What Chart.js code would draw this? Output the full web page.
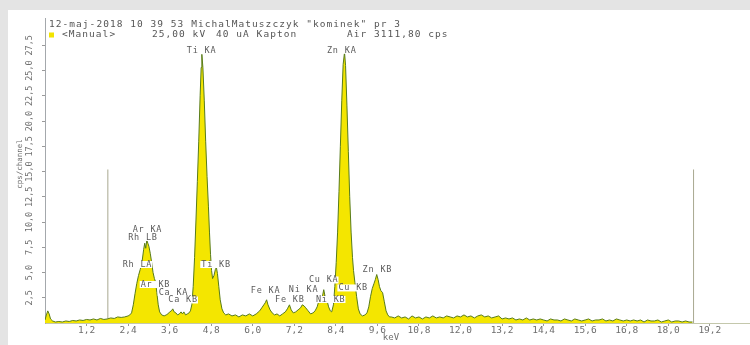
<!DOCTYPE html>
<html>
<head>
<meta charset="utf-8">
<script src="https://cdn.jsdelivr.net/npm/chart.js@4.4.0/dist/chart.umd.min.js"></script>
<style>
    html, body { margin: 0; padding: 0; background: #e4e4e4; }
    #wrap { width: 750px; height: 345px; }
</style>
</head>
<body>
<div id="wrap"><canvas id="chart" width="750" height="345"></canvas></div>
<script>
// spectrum: energy (keV) and counts (cps/channel)
const spectrumKeV = [
    0, 0.04, 0.08, 0.12, 0.16, 0.22, 0.3, 0.4, 0.5, 0.6,
    0.7, 0.8, 0.9, 1.0, 1.1, 1.2, 1.3, 1.4, 1.5, 1.6,
    1.7, 1.8, 1.9, 2.0, 2.1, 2.2, 2.3, 2.4,
    2.45, 2.5, 2.55, 2.6, 2.65, 2.7, 2.75, 2.8, 2.85, 2.88, 2.91, 2.94,
    2.97, 3.0, 3.04, 3.08, 3.12, 3.16, 3.19, 3.23, 3.27, 3.31, 3.37, 3.44,
    3.5, 3.55, 3.6, 3.65, 3.69, 3.73, 3.78, 3.83, 3.88, 3.93, 3.97, 4.01, 4.06, 4.11, 4.16, 4.2,
    4.24, 4.28, 4.32, 4.36, 4.40, 4.44, 4.48, 4.51, 4.53, 4.56, 4.60, 4.64, 4.68, 4.72,
    4.75, 4.78, 4.81, 4.84, 4.88, 4.92, 4.95, 4.98, 5.02, 5.06, 5.11, 5.16, 5.22, 5.3,
    5.4, 5.5, 5.6, 5.7, 5.8, 5.9, 6.0, 6.1, 6.2,
    6.26, 6.32, 6.36, 6.40, 6.44, 6.5, 6.56, 6.63, 6.7, 6.78,
    6.86, 6.94, 7.0, 7.06, 7.11, 7.17, 7.24, 7.31, 7.38, 7.43,
    7.48, 7.53, 7.6, 7.67, 7.74, 7.8, 7.86, 7.91, 7.96, 8.01,
    8.05, 8.09, 8.14, 8.19, 8.24, 8.28, 8.33,
    8.37, 8.41, 8.45, 8.49, 8.53, 8.57, 8.61, 8.65, 8.68, 8.72, 8.76,
    8.80, 8.84, 8.88, 8.91, 8.95, 9.0, 9.05, 9.1, 9.17, 9.24,
    9.3, 9.35, 9.4, 9.45, 9.5, 9.54, 9.58, 9.62, 9.66, 9.7, 9.75, 9.8, 9.85, 9.9, 9.95,
    10.0, 10.1, 10.2, 10.3, 10.4, 10.5, 10.6, 10.7, 10.8, 10.9,
    11.0, 11.1, 11.2, 11.3, 11.4, 11.5, 11.6, 11.7, 11.8, 11.9,
    12.0, 12.1, 12.2, 12.3, 12.4, 12.5, 12.6, 12.7, 12.8, 12.9,
    13.0, 13.1, 13.2, 13.3, 13.4, 13.5, 13.6, 13.7, 13.8, 13.9,
    14.0, 14.1, 14.2, 14.3, 14.4, 14.5, 14.6, 14.7, 14.8, 14.9,
    15.0, 15.1, 15.2, 15.3, 15.4, 15.5, 15.6, 15.7, 15.8, 15.9,
    16.0, 16.1, 16.2, 16.3, 16.4, 16.5, 16.6, 16.7, 16.8, 16.9,
    17.0, 17.1, 17.2, 17.3, 17.4, 17.5, 17.6, 17.7, 17.8, 17.9,
    18.0, 18.1, 18.2, 18.3, 18.4, 18.5, 18.6, 18.7
];
const spectrumCps = [
    0.3, 0.8, 1.2, 0.9, 0.4, 0.2, 0.1, 0.15, 0.1, 0.2,
    0.15, 0.25, 0.2, 0.3, 0.25, 0.35, 0.3, 0.4, 0.3, 0.45,
    0.35, 0.4, 0.5, 0.45, 0.6, 0.55, 0.6, 0.7,
    0.8, 1.0, 1.8, 2.9, 3.9, 4.7, 5.3, 6.0, 7.3, 7.9, 7.4, 8.2,
    7.9, 7.6, 6.9, 6.0, 5.0, 4.4, 4.1, 3.0, 1.8, 1.1, 0.8, 0.7,
    0.8, 0.9, 1.1, 1.2, 1.4, 1.1, 1.0, 0.8, 0.9, 1.1, 0.9, 1.1, 0.8, 0.9, 1.0, 1.2,
    1.8, 3.6, 6.5, 10.2, 14.0, 18.0, 22.5, 25.3, 26.6, 25.3, 22.0, 18.0, 14.5, 11.5,
    9.0, 6.8, 5.2, 4.4, 4.7, 5.3, 5.5, 4.9, 3.6, 2.3, 1.4, 1.0, 0.8, 0.9,
    0.7, 0.8, 0.6, 0.8, 0.7, 0.9, 0.7, 0.9, 1.2,
    1.5, 1.8, 2.0, 2.3, 1.8, 1.3, 1.0, 0.8, 0.9, 0.7,
    0.9, 1.1, 1.4, 1.8, 1.3, 1.0, 1.1, 1.3, 1.5, 1.8,
    1.7, 1.5, 1.2, 0.9, 1.0, 1.2, 1.6, 2.2, 2.5, 2.6,
    3.3, 2.6, 2.3, 1.6, 1.2, 1.1, 1.8,
    3.6, 6.0, 9.0, 13.0, 17.5, 22.0, 25.6, 26.8, 25.5, 21.5, 17.0,
    12.5, 9.0, 6.5, 5.2, 4.0, 2.6, 1.4, 0.9, 0.7, 0.8,
    1.0, 1.6, 2.6, 3.4, 3.9, 4.3, 4.8, 4.3, 3.6, 3.2, 3.0, 2.1, 1.2, 0.8, 0.6,
    0.6, 0.5, 0.7, 0.5, 0.6, 0.4, 0.7, 0.5, 0.6, 0.4,
    0.6, 0.5, 0.7, 0.5, 0.6, 0.5, 0.7, 0.6, 0.5, 0.7,
    0.6, 0.8, 0.6, 0.7, 0.5, 0.7, 0.8, 0.6, 0.7, 0.5,
    0.6, 0.7, 0.4, 0.5, 0.4, 0.5, 0.3, 0.4, 0.3, 0.5,
    0.3, 0.4, 0.3, 0.4, 0.3, 0.2, 0.4, 0.3, 0.3, 0.2,
    0.4, 0.3, 0.2, 0.4, 0.3, 0.2, 0.3, 0.4, 0.2, 0.3,
    0.3, 0.4, 0.2, 0.3, 0.2, 0.4, 0.3, 0.2, 0.3, 0.2,
    0.3, 0.2, 0.3, 0.1, 0.3, 0.2, 0.2, 0.3, 0.1, 0.2,
    0.3, 0.1, 0.2, 0.2, 0.1, 0.2, 0.1, 0.1
];

// two ROI marker lines
const markerKeV = [1.815, 18.73];
const markerTopCps = 15.2;

const xTickValues = [1.2, 2.4, 3.6, 4.8, 6.0, 7.2, 8.4, 9.6, 10.8, 12.0, 13.2, 14.4, 15.6, 16.8, 18.0, 19.2];
const yTickValues = [2.5, 5, 7.5, 10, 12.5, 15, 17.5, 20, 22.5, 25, 27.5];

// peak labels: text, energy and height where the label sits
const peakNames = ['Ti KA', 'Zn KA', 'Ar KA', 'Rh LB', 'Rh LA', 'Ar KB', 'Ca KA', 'Ca KB',
    'Ti KB', 'Fe KA', 'Fe KB', 'Ni KA', 'Cu KA', 'Ni KB', 'Cu KB', 'Zn KB'];
const peakKeV = [4.52, 8.57, 2.96, 2.83, 2.67, 3.19, 3.71, 3.99,
    4.94, 6.37, 7.07, 7.47, 8.05, 8.25, 8.90, 9.60];
const peakLabelCps = [27.0, 27.0, 9.26, 8.47, 5.79, 3.81, 3.02, 2.28,
    5.79, 3.22, 2.33, 3.32, 4.26, 2.33, 3.47, 5.30];

const headerLine = '12-maj-2018 10 39 53 MichalMatuszczyk "kominek" pr 3';

const mono = "'DejaVu Sans Mono'";

const panelPlugin = {
    id: 'panel',
    beforeDraw(chart) {
        const ctx = chart.ctx;
        ctx.save();
        ctx.fillStyle = '#e4e4e4';
        ctx.fillRect(0, 0, chart.width, chart.height);
        ctx.fillStyle = '#ffffff';
        ctx.fillRect(8, 10, chart.width - 8, chart.height - 10);
        ctx.restore();
    }
};

const textPlugin = {
    id: 'texts',
    afterDatasetsDraw(chart) {
        const ctx = chart.ctx;
        const xs = chart.scales.x;
        const ys = chart.scales.y;
        ctx.save();

        // peak labels
        ctx.font = '8.5px ' + mono;
        ctx.letterSpacing = '0.8px';
        ctx.textAlign = 'center';
        ctx.textBaseline = 'middle';
        peakNames.forEach((name, i) => {
            const px = xs.getPixelForValue(peakKeV[i]);
            const py = ys.getPixelForValue(peakLabelCps[i]);
            const w = ctx.measureText(name).width;
            ctx.fillStyle = '#ffffff';
            ctx.fillRect(px - w / 2 - 1, py - 3.5, w + 1, 7);
            ctx.fillStyle = '#5a5a5a';
            ctx.fillText(name, px, py);
        });

        // y tick labels, rotated
        ctx.fillStyle = '#707070';
        ctx.font = '8.5px ' + mono;
        ctx.letterSpacing = '0px';
        yTickValues.forEach(v => {
            const py = ys.getPixelForValue(v);
            ctx.save();
            ctx.translate(30, py);
            ctx.rotate(-Math.PI / 2);
            ctx.fillText(v.toFixed(1).replace('.', ','), 0, 0);
            ctx.restore();
        });

        // axis titles
        ctx.save();
        ctx.font = '7.5px ' + mono;
        ctx.translate(20, 164);
        ctx.rotate(-Math.PI / 2);
        ctx.fillText('cps/channel', 0, 0);
        ctx.restore();
        ctx.font = '9px ' + mono;
        ctx.fillText('keV', 391, 338);

        // header
        ctx.fillStyle = '#555555';
        ctx.font = '9.5px ' + mono;
        ctx.letterSpacing = '1.05px';
        ctx.textAlign = 'left';
        ctx.fillText(headerLine, 49, 24.5);
        ctx.fillText('<Manual>', 62, 35);
        ctx.fillText('25,00 kV', 152, 35);
        ctx.fillText('40 uA Kapton', 216, 35);
        ctx.fillText('Air 3111,80 cps', 347, 35);
        ctx.fillStyle = '#f2e400';
        ctx.fillRect(49, 32.5, 5, 5);

        ctx.restore();
    }
};

const spectrumPoints = spectrumKeV.map((e, i) => ({ x: e, y: spectrumCps[i] }));

const markerSets = markerKeV.map(e => ({
    data: [{ x: e, y: 0 }, { x: e, y: markerTopCps }],
    borderColor: '#a8a890',
    borderWidth: 1,
    pointRadius: 0,
    fill: false
}));

new Chart(document.querySelector('#chart').getContext('2d'), {
    type: 'line',
    data: {
        datasets: [{
            label: 'spectrum',
            data: spectrumPoints,
            borderColor: '#587c1a',
            borderWidth: 1,
            backgroundColor: '#f4e600',
            fill: 'origin',
            pointRadius: 0,
            tension: 0
        }, ...markerSets]
    },
    options: {
        responsive: false,
        animation: false,
        events: [],
        layout: { padding: { left: 8, top: 18, right: 0, bottom: 0 } },
        plugins: {
            legend: { display: false },
            tooltip: { enabled: false }
        },
        scales: {
            x: {
                type: 'linear',
                min: 0,
                max: 20.36,
                afterBuildTicks: scale => { scale.ticks = xTickValues.map(v => ({ value: v })); },
                afterFit: scale => { scale.height = 22; },
                ticks: {
                    autoSkip: false,
                    maxRotation: 0,
                    padding: 0,
                    color: '#6e6e6e',
                    font: { family: mono, size: 9.5, lineHeight: 1 },
                    callback: v => v.toFixed(1).replace('.', ',')
                },
                grid: { drawOnChartArea: false, drawTicks: true, tickLength: 3, color: '#9a9a9a' },
                border: { color: '#c4c8ac' }
            },
            y: {
                min: 0,
                max: 30.2,
                afterBuildTicks: scale => { scale.ticks = yTickValues.map(v => ({ value: v })); },
                afterFit: scale => { scale.width = 37; },
                ticks: { display: false },
                grid: { drawOnChartArea: false, drawTicks: true, tickLength: 3, color: '#9a9a9a' },
                border: { color: '#a4a8ac' }
            }
        }
    },
    plugins: [panelPlugin, textPlugin]
});
</script>
</body>
</html>
